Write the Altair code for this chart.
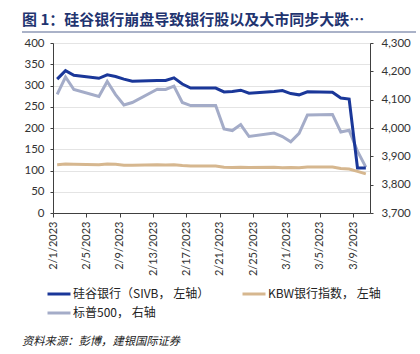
import altair as alt
import pandas as pd

dates = ["2023-02-01", "2023-02-02", "2023-02-03", "2023-02-06", "2023-02-07", "2023-02-08",
         "2023-02-09", "2023-02-10", "2023-02-13", "2023-02-14", "2023-02-15", "2023-02-16",
         "2023-02-17", "2023-02-20", "2023-02-21", "2023-02-22", "2023-02-23", "2023-02-24",
         "2023-02-27", "2023-02-28", "2023-03-01", "2023-03-02", "2023-03-03", "2023-03-06",
         "2023-03-07", "2023-03-08", "2023-03-09", "2023-03-10"]
sivb = [315, 335, 324, 317, 325, 321, 315, 310, 312, 312, 318, 303.5, 294, 294, 285, 286,
        289, 282, 286, 288, 281, 278, 285, 284, 270.6, 268, 106, 106]
kbw = [113.5, 115, 114.5, 113.5, 115.5, 114.5, 112.5, 112.5, 113.5, 113, 113.5, 111.5, 110.5,
       110.5, 107.5, 107, 107.5, 107, 107.5, 106.5, 107, 106.5, 108.5, 108, 104.5, 103.5, 98, 92]
spx = [4119, 4180, 4136, 4111, 4164, 4118, 4081, 4090, 4137, 4136, 4148, 4090, 4079, 4079,
       3997, 3991, 4012, 3970, 3982, 3970, 3951, 3981, 4046, 4048, 3986, 3992, 3918, 3862]

name_sivb = "硅谷银行（SIVB， 左轴）"
name_kbw = "KBW银行指数， 左轴"
name_spx = "标普500， 右轴"
tick_days = [(2, 1), (2, 5), (2, 9), (2, 13), (2, 17), (2, 21), (2, 25), (3, 1), (3, 5), (3, 9)]

ts = [d + "T12:00:00" for d in dates]
left_df = pd.DataFrame({"date": ts * 2, "value": sivb + kbw,
                        "series": [name_sivb] * len(ts) + [name_kbw] * len(ts)})
right_df = pd.DataFrame({"date": ts, "value": spx, "series": [name_spx] * len(ts)})

num_font = "Lato"
cjk_font = "Noto Sans CJK SC"

color_scale = alt.Scale(domain=[name_sivb, name_spx, name_kbw],
                        range=["#1a3799", "#a4acc8", "#d6b78f"])
x_scale = alt.Scale(domain=[alt.DateTime(year=2023, month=2, date=1),
                            alt.DateTime(year=2023, month=3, date=11)])
tick_vals = [alt.DateTime(year=2023, month=m, date=d) for m, d in tick_days]

x_axis = alt.Axis(title=None, values=tick_vals, format="%-m/%-d/%Y", labelAngle=270,
                  grid=False, tickSize=4, labelPadding=4, domainColor="#404040",
                  tickColor="#404040", labelFont=num_font, labelFontSize=11,
                  labelColor="#333333")

legend = alt.Legend(title=None, orient="none", legendX=-7, legendY=238, columns=2,
                    symbolType="stroke", symbolSize=529, symbolStrokeWidth=3,
                    labelFont=cjk_font, labelFontSize=12, labelColor="#222222",
                    labelOffset=1, columnPadding=26, rowPadding=-2)

right = alt.Chart(right_df).mark_line(strokeWidth=3).encode(
    x=alt.X("date:T", scale=x_scale, axis=x_axis),
    y=alt.Y("value:Q", scale=alt.Scale(domain=[3700, 4300], nice=False),
            axis=alt.Axis(orient="right", title=None, values=list(range(3700, 4301, 100)),
                          format=",.0f", grid=False, tickSize=3, labelPadding=8,
                          domainColor="#404040", tickColor="#404040",
                          labelFont=num_font, labelFontSize=11.5, labelColor="#333333")),
    color=alt.Color("series:N", scale=color_scale, legend=legend),
)

left = alt.Chart(left_df).mark_line(strokeWidth=3).encode(
    x=alt.X("date:T", scale=x_scale, axis=x_axis),
    y=alt.Y("value:Q", scale=alt.Scale(domain=[0, 400], nice=False),
            axis=alt.Axis(orient="left", title=None, values=list(range(0, 401, 50)),
                          grid=True, gridColor="#e4e4e4", tickSize=3, labelPadding=6,
                          domainColor="#404040", tickColor="#404040",
                          labelFont=num_font, labelFontSize=11.5, labelColor="#333333")),
    color=alt.Color("series:N", scale=color_scale, legend=legend),
)

deco = pd.DataFrame({"k": [0]})
title_rule = alt.Chart(deco).mark_rule(color="#8e98b6", strokeWidth=1.5).encode(
    x=alt.value(-31), x2=alt.value(363), y=alt.value(-11))
source = alt.Chart(deco).mark_text(align="left", baseline="middle", font=cjk_font,
                                   fontSize=11.3, fontStyle="italic", color="#222222").encode(
    x=alt.value(-31), y=alt.value(299), text=alt.value("资料来源：彭博，建银国际证券"))

chart = alt.layer(right, left, title_rule, source).resolve_scale(y="independent").properties(
    width=317, height=170,
    autosize=alt.AutoSizeParams(type="none"),
    padding={"left": 53, "top": 43, "right": 50, "bottom": 141},
    title=alt.Title("图 1：硅谷银行崩盘导致银行股以及大市同步大跌…", anchor="start", frame="group",
                    dx=-31, offset=3, font=cjk_font, fontSize=15, fontWeight="bold",
                    color="#1f3470"),
).configure_view(stroke=None).configure(background="white")

chart.save("out.html", embed_options={"renderer": "svg", "actions": False})
